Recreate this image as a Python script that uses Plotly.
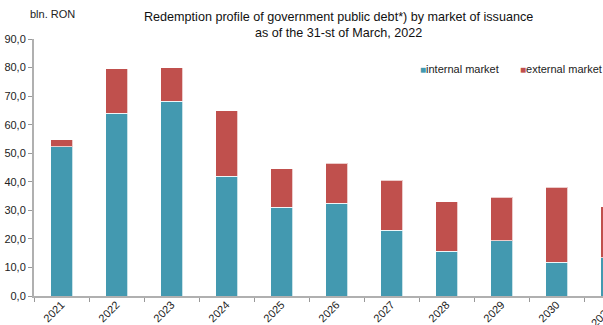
import plotly.graph_objects as go

years = ["2021", "2022", "2023", "2024", "2025", "2026", "2027", "2028", "2029", "2030", "2031"]
internal = [52.2, 64.0, 68.2, 42.0, 31.0, 32.5, 23.1, 15.6, 19.4, 11.9, 13.4]
external = [2.5, 15.5, 11.7, 22.8, 13.6, 14.0, 17.4, 17.4, 15.2, 26.2, 17.9]
series_names = ["internal market", "external market"]

TEAL = "#4399B0"
RED = "#C0504D"
FONT = "Liberation Sans, Arial, sans-serif"

fig = go.Figure()
fig.add_trace(go.Bar(x=years, y=internal, name=series_names[0], marker_color=TEAL,
                     marker_line=dict(color="rgba(255,255,255,0.7)", width=1)))
fig.add_trace(go.Bar(x=years, y=external, name=series_names[1], marker_color=RED,
                     marker_line=dict(color="rgba(255,255,255,0.7)", width=1)))


def px_x(p):
    return (p - 34) / 569.0


def px_y(p):
    return (296 - p) / 257.0


legend_anns = []
for name, col, xpix in [(series_names[0], TEAL, 418), (series_names[1], RED, 518)]:
    legend_anns.append(dict(
        text=f"<span style='color:{col};font-size:10px'>■</span>{name}",
        xref="paper", yref="paper", x=px_x(xpix), y=px_y(69),
        xanchor="left", yanchor="middle", showarrow=False,
        font=dict(size=11, color="#222")))

fig.update_layout(
    width=603, height=325,
    barmode="stack", bargap=0.6,
    separators=",.",
    margin=dict(l=34, r=0, t=39, b=29, autoexpand=False),
    paper_bgcolor="white", plot_bgcolor="white",
    font=dict(family=FONT, size=11, color="#222"),
    showlegend=False,
    xaxis=dict(type="category", range=[-0.5, 9.845], tickangle=-45,
               ticks="outside", tickson="boundaries", ticklen=4, tickcolor="#999",
               ticklabelstandoff=-4,
               showline=True, linecolor="#B0B0B0", linewidth=2, showgrid=False,
               tickfont=dict(size=11, color="#222")),
    yaxis=dict(range=[0, 90], dtick=10, tickformat=".1f", ticks="outside", ticklen=4,
               tickcolor="#999", showline=True, linecolor="#B0B0B0", linewidth=2,
               showgrid=False, zeroline=False, tickfont=dict(size=11, color="#222")),
    annotations=[
        dict(text="Redemption profile of government public debt*) by market of issuance<br>as of the 31-st of March, 2022",
             xref="paper", yref="paper", x=px_x(338), y=px_y(25), xanchor="center", yanchor="middle",
             showarrow=False, font=dict(size=12.6, color="#111")),
        dict(text="bln. RON", xref="paper", yref="paper", x=px_x(52), y=px_y(14),
             xanchor="center", yanchor="middle", showarrow=False, font=dict(size=11, color="#222")),
        dict(text=years[10], xref="paper", yref="paper", x=px_x(617), y=0, xanchor="right", yanchor="top",
             textangle=-45, yshift=-4, showarrow=False, font=dict(size=11, color="#222")),
    ] + legend_anns,
)

fig.write_html("out.html")
